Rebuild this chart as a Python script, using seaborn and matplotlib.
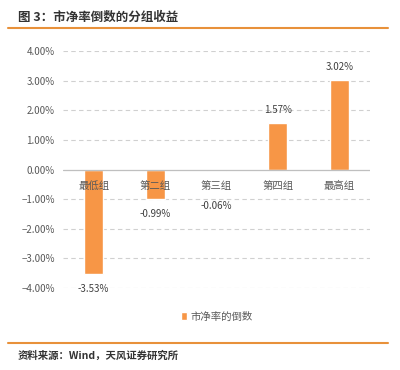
import matplotlib
matplotlib.use('Agg')
import matplotlib.pyplot as plt
import seaborn as sns
import pandas as pd
from matplotlib.ticker import PercentFormatter

GROUPS = ['最低组', '第二组', '第三组', '第四组', '最高组']
RETURNS = [-3.53, -0.99, -0.06, 1.57, 3.02]
SERIES = '市净率的倒数'
TITLE = '图 3：市净率倒数的分组收益'
SOURCE = '资料来源：Wind，天风证券研究所'

BAR_COLOR = '#F79646'
LINE_COLOR = '#E8913A'
TEXT_GRAY = '#595959'

sns.set_theme(style='white')
plt.rcParams['font.family'] = ['Noto Sans CJK SC', 'DejaVu Sans']

df = pd.DataFrame({'group': GROUPS, 'ret': RETURNS})

fig = plt.figure(figsize=(4, 3.7), dpi=100)
ax = fig.add_axes([0.1575, 0.2216, 0.7675, 0.6405])

sns.barplot(data=df, x='group', y='ret', color=BAR_COLOR, width=0.31,
            saturation=1, ax=ax, label=SERIES, zorder=3)

ax.set_ylim(-4, 4)
ax.set_xlim(-0.5, 4.5)
ax.set_yticks([-4, -3, -2, -1, 0, 1, 2, 3, 4])
ax.yaxis.set_major_formatter(PercentFormatter(decimals=2))
ax.tick_params(axis='y', labelsize=7, colors=TEXT_GRAY, length=0, pad=6)
ax.set_xlabel('')
ax.set_ylabel('')
ax.set_xticks([])
for s in ax.spines.values():
    s.set_visible(False)

for y in [-4, -3, -2, -1, 1, 2, 3, 4]:
    ax.axhline(y, color='#D0D0D0', lw=0.8, ls=(0, (4, 3)), zorder=1)
ax.axhline(0, color='#BFBFBF', lw=0.9, zorder=4)

# category labels sit just below the zero line
for i, g in enumerate(GROUPS):
    ax.text(i, -0.57, g, ha='center', va='center', fontsize=7.5, color=TEXT_GRAY, zorder=5)

# value labels
for i, v in enumerate(RETURNS):
    if v >= 0:
        ax.text(i, v + 0.45, '%.2f%%' % v, ha='center', va='center', fontsize=7, color='#404040')
    elif v < -0.5:
        ax.text(i, v - 0.5, '%.2f%%' % v, ha='center', va='center', fontsize=7, color='#404040')
    else:
        ax.text(i, -1.22, '%.2f%%' % v, ha='center', va='center', fontsize=7, color='#404040')

leg = ax.legend(loc='upper center', bbox_to_anchor=(0.5, -0.06), frameon=False,
                fontsize=7.5, handlelength=0.6, handleheight=0.9, handletextpad=0.3)
for t in leg.get_texts():
    t.set_color(TEXT_GRAY)

fig.text(0.045, 0.954, TITLE, fontsize=9, fontweight='bold', color='#333333', va='center')
fig.add_artist(plt.Line2D([0.02, 0.97], [0.924, 0.924], color=LINE_COLOR, lw=1.5,
                          transform=fig.transFigure))
fig.add_artist(plt.Line2D([0.02, 0.97], [0.073, 0.073], color=LINE_COLOR, lw=1.5,
                          transform=fig.transFigure))
fig.text(0.045, 0.038, SOURCE, fontsize=7.5, fontweight='bold', color='#333333', va='center')

fig.savefig('out.png', dpi=100, facecolor='white')
